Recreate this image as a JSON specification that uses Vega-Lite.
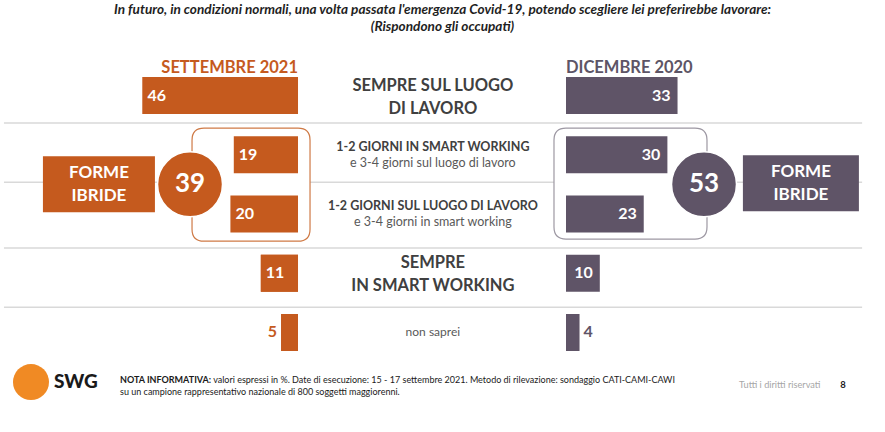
{
  "$schema": "https://vega.github.io/schema/vega-lite/v6.json",
  "width": 885,
  "height": 392,
  "padding": {"top": 3, "left": 0, "right": 0, "bottom": 0},
  "autosize": {"type": "pad"},
  "background": "white",
  "title": {
    "text": ["In futuro, in condizioni normali, una volta passata l'emergenza Covid-19, potendo scegliere lei preferirebbe lavorare:", "(Rispondono gli occupati)"],
    "font": "Lato",
    "fontSize": 13.6,
    "fontStyle": "italic",
    "fontWeight": "bold",
    "color": "#1f1f1f",
    "lineHeight": 17,
    "anchor": "middle",
    "offset": 5
  },
  "config": {
    "view": {"stroke": null},
    "axis": {"disable": true},
    "text": {"font": "Lato"}
  },
  "datasets": {
    "rows": [
      {"cat": "Sempre sul luogo di lavoro", "sett": 46, "dic": 33, "big": ["SEMPRE SUL LUOGO", "DI LAVORO"]},
      {"cat": "1-2 giorni in smart working", "sett": 19, "dic": 30, "l1": "1-2 GIORNI IN  SMART WORKING", "l2": "e 3-4 giorni sul luogo di lavoro"},
      {"cat": "1-2 giorni sul luogo di lavoro", "sett": 20, "dic": 23, "l1": "1-2 GIORNI SUL LUOGO DI LAVORO", "l2": "e 3-4 giorni in smart working"},
      {"cat": "Sempre in smart working", "sett": 11, "dic": 10, "big": ["SEMPRE", "IN SMART WORKING"]},
      {"cat": "Non saprei", "sett": 5, "dic": 4, "note": "non saprei"}
    ]
  },
  "data": {"name": "rows"},
  "resolve": {"scale": {"x": "independent"}},
  "layer": [
    {
      "layer": [
        {
          "mark": {"type": "bar", "color": "#c55a1e"},
          "encoding": {
            "x": {"field": "sett", "type": "quantitative", "scale": {"domain": [-173.67, 88.17], "reverse": true, "nice": false, "zero": false}, "axis": null},
            "x2": {"datum": 0},
            "y": {"field": "cat", "type": "nominal", "axis": null, "scale": {"domain": ["Sempre sul luogo di lavoro", "1-2 giorni in smart working", "1-2 giorni sul luogo di lavoro", "Sempre in smart working", "Non saprei"], "paddingInner": 0.3755, "paddingOuter": 0.996, "align": 0.322, "round": false}}
          }
        },
        {
          "transform": [{"filter": {"field": "cat", "oneOf": ["Sempre sul luogo di lavoro", "1-2 giorni in smart working"]}}],
          "mark": {"type": "rule", "color": "#d9d9d9", "strokeWidth": 1.5},
          "encoding": {
            "x": {"datum": 87, "type": "quantitative", "scale": {"domain": [-173.67, 88.17], "reverse": true, "nice": false, "zero": false}},
            "x2": {"datum": -166.9},
            "y": {"field": "cat", "type": "nominal", "bandPosition": 1.243}
          }
        },
        {
          "transform": [{"filter": {"field": "cat", "oneOf": ["1-2 giorni sul luogo di lavoro", "Sempre in smart working"]}}],
          "mark": {"type": "rule", "color": "#d9d9d9", "strokeWidth": 1.5},
          "encoding": {
            "x": {"datum": 87, "type": "quantitative", "scale": {"domain": [-173.67, 88.17], "reverse": true, "nice": false, "zero": false}},
            "x2": {"datum": -166.9},
            "y": {"field": "cat", "type": "nominal", "bandPosition": 1.42}
          }
        },
        {
          "data": {"values": [{}]},
          "mark": {"type": "point", "shape": "M-47,-56.5H47Q59,-56.5 59,-44.5V44.5Q59,56.5 47,56.5H-47Q-59,56.5 -59,44.5V-44.5Q-59,-56.5 -47,-56.5Z", "size": 4, "filled": true, "fill": "white", "stroke": "#cf7a46", "strokeWidth": 1.2, "opacity": 1},
          "encoding": {
            "x": {"datum": 13.9, "type": "quantitative", "scale": {"domain": [-173.67, 88.17], "reverse": true, "nice": false, "zero": false}},
            "y": {"datum": "1-2 giorni in smart working", "type": "nominal", "bandPosition": 1.31}
          }
        },
        {
          "data": {"values": [{}]},
          "mark": {"type": "point", "shape": "M-56,-28H56V28H-56Z", "size": 4, "filled": true, "fill": "#c55a1e", "strokeWidth": 0, "opacity": 1},
          "encoding": {
            "x": {"datum": 58.9, "type": "quantitative", "scale": {"domain": [-173.67, 88.17], "reverse": true, "nice": false, "zero": false}},
            "y": {"datum": "1-2 giorni in smart working", "type": "nominal", "bandPosition": 1.297}
          }
        },
        {
          "data": {"values": [{}]},
          "mark": {"type": "text", "text": ["FORME", "IBRIDE"], "fontSize": 17, "fontWeight": "bold", "color": "white", "lineHeight": 23, "align": "center", "baseline": "middle", "dy": -11.5},
          "encoding": {
            "x": {"datum": 58.9, "type": "quantitative", "scale": {"domain": [-173.67, 88.17], "reverse": true, "nice": false, "zero": false}},
            "y": {"datum": "1-2 giorni in smart working", "type": "nominal", "bandPosition": 1.297}
          }
        },
        {
          "data": {"values": [{}]},
          "mark": {"type": "point", "shape": "circle", "size": 4225, "filled": true, "fill": "#c55a1e", "stroke": "white", "strokeWidth": 1.5, "opacity": 1},
          "encoding": {
            "x": {"datum": 31.95, "type": "quantitative", "scale": {"domain": [-173.67, 88.17], "reverse": true, "nice": false, "zero": false}},
            "y": {"datum": "1-2 giorni in smart working", "type": "nominal", "bandPosition": 1.3}
          }
        },
        {
          "data": {"values": [{}]},
          "mark": {"type": "text", "text": "39", "fontSize": 26, "fontWeight": "bold", "color": "white", "align": "center", "baseline": "middle"},
          "encoding": {
            "x": {"datum": 31.95, "type": "quantitative", "scale": {"domain": [-173.67, 88.17], "reverse": true, "nice": false, "zero": false}},
            "y": {"datum": "1-2 giorni in smart working", "type": "nominal", "bandPosition": 1.3}
          }
        },
        {
          "mark": {"type": "bar", "color": "#c55a1e"},
          "encoding": {
            "x": {"field": "sett", "type": "quantitative", "scale": {"domain": [-173.67, 88.17], "reverse": true, "nice": false, "zero": false}},
            "x2": {"datum": 0},
            "y": {"field": "cat", "type": "nominal"}
          }
        },
        {
          "transform": [{"filter": "datum.sett >= 10"}],
          "mark": {"type": "text", "align": "left", "dx": 5, "fontSize": 16, "fontWeight": "bold", "color": "white", "baseline": "middle"},
          "encoding": {
            "x": {"field": "sett", "type": "quantitative", "scale": {"domain": [-173.67, 88.17], "reverse": true, "nice": false, "zero": false}},
            "y": {"field": "cat", "type": "nominal"},
            "text": {"field": "sett"}
          }
        },
        {
          "transform": [{"filter": "datum.sett < 10"}],
          "mark": {"type": "text", "align": "right", "dx": -4, "fontSize": 16, "fontWeight": "bold", "color": "#c55a1e", "baseline": "middle"},
          "encoding": {
            "x": {"field": "sett", "type": "quantitative", "scale": {"domain": [-173.67, 88.17], "reverse": true, "nice": false, "zero": false}},
            "y": {"field": "cat", "type": "nominal"},
            "text": {"field": "sett"}
          }
        },
        {
          "data": {"values": [{}]},
          "mark": {"type": "text", "text": "SETTEMBRE 2021", "fontSize": 16.5, "fontWeight": "bold", "color": "#c55a1e", "align": "right", "baseline": "alphabetic", "dy": -4},
          "encoding": {
            "x": {"datum": 0, "type": "quantitative", "scale": {"domain": [-173.67, 88.17], "reverse": true, "nice": false, "zero": false}},
            "y": {"datum": "Sempre sul luogo di lavoro", "type": "nominal", "bandPosition": 0}
          }
        },
        {
          "transform": [{"filter": "isValid(datum.big)"}],
          "mark": {"type": "text", "fontSize": 16.5, "fontWeight": "bold", "color": "#404040", "lineHeight": 23, "align": "center", "baseline": "middle", "dy": -10},
          "encoding": {
            "x": {"datum": -39.9, "type": "quantitative", "scale": {"domain": [-173.67, 88.17], "reverse": true, "nice": false, "zero": false}},
            "y": {"field": "cat", "type": "nominal"},
            "text": {"field": "big"}
          }
        },
        {
          "transform": [{"filter": "isValid(datum.l1)"}],
          "mark": {"type": "text", "fontSize": 12.5, "fontWeight": "bold", "color": "#404040", "align": "center", "baseline": "middle", "dy": -8},
          "encoding": {
            "x": {"datum": -39.9, "type": "quantitative", "scale": {"domain": [-173.67, 88.17], "reverse": true, "nice": false, "zero": false}},
            "y": {"field": "cat", "type": "nominal"},
            "text": {"field": "l1"}
          }
        },
        {
          "transform": [{"filter": "isValid(datum.l2)"}],
          "mark": {"type": "text", "fontSize": 12.5, "color": "#595959", "align": "center", "baseline": "middle", "dy": 8},
          "encoding": {
            "x": {"datum": -39.9, "type": "quantitative", "scale": {"domain": [-173.67, 88.17], "reverse": true, "nice": false, "zero": false}},
            "y": {"field": "cat", "type": "nominal"},
            "text": {"field": "l2"}
          }
        },
        {
          "transform": [{"filter": "isValid(datum.note)"}],
          "mark": {"type": "text", "fontSize": 12, "color": "#595959", "align": "center", "baseline": "middle"},
          "encoding": {
            "x": {"datum": -39.9, "type": "quantitative", "scale": {"domain": [-173.67, 88.17], "reverse": true, "nice": false, "zero": false}},
            "y": {"field": "cat", "type": "nominal"},
            "text": {"field": "note"}
          }
        },
        {
          "data": {"values": [{}]},
          "mark": {"type": "point", "shape": "circle", "size": 1296, "filled": true, "fill": "#f08a24", "strokeWidth": 0, "opacity": 1},
          "encoding": {
            "x": {"datum": 79.0, "type": "quantitative", "scale": {"domain": [-173.67, 88.17], "reverse": true, "nice": false, "zero": false}},
            "y": {"datum": "Non saprei", "type": "nominal", "bandPosition": 1.84}
          }
        },
        {
          "data": {"values": [{}]},
          "mark": {"type": "text", "text": "SWG", "fontSize": 19, "fontWeight": 900, "color": "#1a1a1a", "align": "left", "baseline": "middle"},
          "encoding": {
            "x": {"datum": 72.2, "type": "quantitative", "scale": {"domain": [-173.67, 88.17], "reverse": true, "nice": false, "zero": false}},
            "y": {"datum": "Non saprei", "type": "nominal", "bandPosition": 1.84}
          }
        },
        {
          "data": {"values": [{}]},
          "mark": {"type": "text", "text": "NOTA INFORMATIVA:", "fontSize": 9, "fontWeight": "bold", "color": "#1a1a1a", "align": "left", "baseline": "middle"},
          "encoding": {
            "x": {"datum": 52.66, "type": "quantitative", "scale": {"domain": [-173.67, 88.17], "reverse": true, "nice": false, "zero": false}},
            "y": {"datum": "Non saprei", "type": "nominal", "bandPosition": 1.784}
          }
        },
        {
          "data": {"values": [{}]},
          "mark": {"type": "text", "text": "valori espressi in %. Date di esecuzione: 15 - 17 settembre 2021. Metodo di rilevazione: sondaggio CATI-CAMI-CAWI", "fontSize": 9, "color": "#1a1a1a", "align": "left", "baseline": "middle"},
          "encoding": {
            "x": {"datum": 25.1, "type": "quantitative", "scale": {"domain": [-173.67, 88.17], "reverse": true, "nice": false, "zero": false}},
            "y": {"datum": "Non saprei", "type": "nominal", "bandPosition": 1.784}
          }
        },
        {
          "data": {"values": [{}]},
          "mark": {"type": "text", "text": "su un campione rappresentativo nazionale di 800 soggetti maggiorenni.", "fontSize": 9, "color": "#1a1a1a", "align": "left", "baseline": "middle"},
          "encoding": {
            "x": {"datum": 52.66, "type": "quantitative", "scale": {"domain": [-173.67, 88.17], "reverse": true, "nice": false, "zero": false}},
            "y": {"datum": "Non saprei", "type": "nominal", "bandPosition": 2.108}
          }
        },
        {
          "data": {"values": [{}]},
          "mark": {"type": "text", "text": "Tutti i diritti riservati", "fontSize": 9.2, "color": "#a6a6a6", "align": "left", "baseline": "middle"},
          "encoding": {
            "x": {"datum": -130.5, "type": "quantitative", "scale": {"domain": [-173.67, 88.17], "reverse": true, "nice": false, "zero": false}},
            "y": {"datum": "Non saprei", "type": "nominal", "bandPosition": 1.92}
          }
        },
        {
          "data": {"values": [{}]},
          "mark": {"type": "text", "text": "8", "fontSize": 9.5, "fontWeight": "bold", "color": "#1a1a1a", "align": "left", "baseline": "middle"},
          "encoding": {
            "x": {"datum": -160.4, "type": "quantitative", "scale": {"domain": [-173.67, 88.17], "reverse": true, "nice": false, "zero": false}},
            "y": {"datum": "Non saprei", "type": "nominal", "bandPosition": 1.92}
          }
        }
      ]
    },
    {
      "layer": [
        {
          "data": {"values": [{}]},
          "mark": {"type": "point", "shape": "M-64.5,-55.5H64.5Q76.5,-55.5 76.5,-43.5V43.5Q76.5,55.5 64.5,55.5H-64.5Q-76.5,55.5 -76.5,43.5V-43.5Q-76.5,-55.5 -64.5,-55.5Z", "size": 4, "filled": true, "fill": "white", "stroke": "#9d98a3", "strokeWidth": 1.2, "opacity": 1},
          "encoding": {
            "x": {"datum": 19.08, "type": "quantitative", "scale": {"domain": [-167.46, 94.38], "nice": false, "zero": false}, "axis": null},
            "y": {"datum": "1-2 giorni in smart working", "type": "nominal", "bandPosition": 1.28}
          }
        },
        {
          "data": {"values": [{}]},
          "mark": {"type": "point", "shape": "M-58,-28H58V28H-58Z", "size": 4, "filled": true, "fill": "#5f5467", "strokeWidth": 0, "opacity": 1},
          "encoding": {
            "x": {"datum": 69.5, "type": "quantitative", "scale": {"domain": [-167.46, 94.38], "nice": false, "zero": false}},
            "y": {"datum": "1-2 giorni in smart working", "type": "nominal", "bandPosition": 1.27}
          }
        },
        {
          "data": {"values": [{}]},
          "mark": {"type": "text", "text": ["FORME", "IBRIDE"], "fontSize": 17, "fontWeight": "bold", "color": "white", "lineHeight": 23, "align": "center", "baseline": "middle", "dy": -11.5},
          "encoding": {
            "x": {"datum": 69.5, "type": "quantitative", "scale": {"domain": [-167.46, 94.38], "nice": false, "zero": false}},
            "y": {"datum": "1-2 giorni in smart working", "type": "nominal", "bandPosition": 1.27}
          }
        },
        {
          "data": {"values": [{}]},
          "mark": {"type": "point", "shape": "circle", "size": 4225, "filled": true, "fill": "#5f5467", "stroke": "white", "strokeWidth": 1.5, "opacity": 1},
          "encoding": {
            "x": {"datum": 40.83, "type": "quantitative", "scale": {"domain": [-167.46, 94.38], "nice": false, "zero": false}},
            "y": {"datum": "1-2 giorni in smart working", "type": "nominal", "bandPosition": 1.3}
          }
        },
        {
          "data": {"values": [{}]},
          "mark": {"type": "text", "text": "53", "fontSize": 26, "fontWeight": "bold", "color": "white", "align": "center", "baseline": "middle"},
          "encoding": {
            "x": {"datum": 40.83, "type": "quantitative", "scale": {"domain": [-167.46, 94.38], "nice": false, "zero": false}},
            "y": {"datum": "1-2 giorni in smart working", "type": "nominal", "bandPosition": 1.3}
          }
        },
        {
          "mark": {"type": "bar", "color": "#5f5467"},
          "encoding": {
            "x": {"field": "dic", "type": "quantitative", "scale": {"domain": [-167.46, 94.38], "nice": false, "zero": false}},
            "x2": {"datum": 0},
            "y": {"field": "cat", "type": "nominal"}
          }
        },
        {
          "transform": [{"filter": "datum.dic >= 10"}],
          "mark": {"type": "text", "align": "right", "dx": -7, "fontSize": 16, "fontWeight": "bold", "color": "white", "baseline": "middle"},
          "encoding": {
            "x": {"field": "dic", "type": "quantitative", "scale": {"domain": [-167.46, 94.38], "nice": false, "zero": false}},
            "y": {"field": "cat", "type": "nominal"},
            "text": {"field": "dic"}
          }
        },
        {
          "transform": [{"filter": "datum.dic < 10"}],
          "mark": {"type": "text", "align": "left", "dx": 4, "fontSize": 16, "fontWeight": "bold", "color": "#5f5467", "baseline": "middle"},
          "encoding": {
            "x": {"field": "dic", "type": "quantitative", "scale": {"domain": [-167.46, 94.38], "nice": false, "zero": false}},
            "y": {"field": "cat", "type": "nominal"},
            "text": {"field": "dic"}
          }
        },
        {
          "data": {"values": [{}]},
          "mark": {"type": "text", "text": "DICEMBRE 2020", "fontSize": 16.5, "fontWeight": "bold", "color": "#5d5566", "align": "left", "baseline": "alphabetic", "dy": -4},
          "encoding": {
            "x": {"datum": 0, "type": "quantitative", "scale": {"domain": [-167.46, 94.38], "nice": false, "zero": false}},
            "y": {"datum": "Sempre sul luogo di lavoro", "type": "nominal", "bandPosition": 0}
          }
        }
      ]
    }
  ]
}
